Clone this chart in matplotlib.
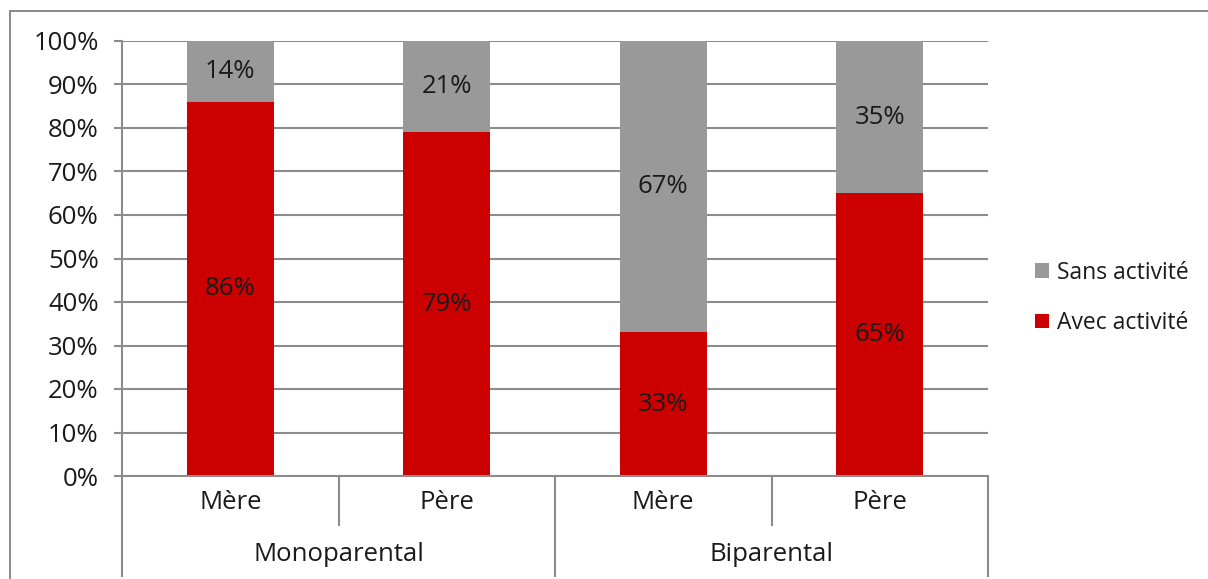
import matplotlib.pyplot as plt
from matplotlib.patches import Rectangle

plt.rcParams['font.family'] = ['Open Sans', 'DejaVu Sans']

groupes = ['Monoparental', 'Biparental']
parents = ['Mère', 'Père', 'Mère', 'Père']
avec_activite = [86, 79, 33, 65]
sans_activite = [14, 21, 67, 35]

rouge = '#cc0000'
gris = '#999999'
ligne = '#8c8c8c'
texte = '#1a1a1a'
fs = 18.5

fig = plt.figure(figsize=(12.08, 5.79), dpi=100)
ax = fig.add_axes([122 / 1208, 1 - 476 / 579, (988 - 122) / 1208, (476 - 41) / 579])

# cadre du graphique
fig.patches.append(Rectangle((10 / 1208, -0.1), 1.1, 1 - 11 / 579 + 0.1, transform=fig.transFigure,
                             fill=False, edgecolor='#767676', linewidth=1.2))

x = list(range(len(parents)))
b1 = ax.bar(x, avec_activite, width=0.4, color=rouge, label='Avec activité', zorder=2)
b2 = ax.bar(x, sans_activite, width=0.4, bottom=avec_activite, color=gris, label='Sans activité', zorder=2)
ax.bar_label(b1, labels=[f'{v}%' for v in avec_activite], label_type='center', fontsize=fs, color=texte)
ax.bar_label(b2, labels=[f'{v}%' for v in sans_activite], label_type='center', fontsize=fs, color=texte)

ax.set_xlim(-0.5, len(parents) - 0.5)
ax.set_ylim(0, 100)
ax.set_yticks(range(0, 101, 10))
ax.set_yticklabels([f'{v}%' for v in range(0, 101, 10)], fontsize=fs, color=texte)
ax.yaxis.grid(True, color=ligne, linewidth=1.5, zorder=0)
ax.tick_params(axis='y', length=5.8, width=1.5, color=ligne, pad=11)
ax.set_xticks([])
for s in ['top', 'right']:
    ax.spines[s].set_visible(False)
for s in ['left', 'bottom']:
    ax.spines[s].set_color(ligne)
    ax.spines[s].set_linewidth(1.5)

# axe des catégories à deux niveaux
tr = ax.get_xaxis_transform()
h1 = 49 / 435
h2 = 100 / 435
for i, p in enumerate(parents):
    ax.text(i, -h1 / 2 - 0.005, p, transform=tr, ha='center', va='center', fontsize=fs, color=texte)
for i in range(len(parents) + 1):
    bord = i % 2 == 0
    ax.plot([i - 0.5, i - 0.5], [0, -(h2 if bord else h1)], transform=tr, color=ligne,
            linewidth=1.5, clip_on=False)
for j, g in enumerate(groupes):
    ax.text(2 * j + 0.5, -(h1 + h2) / 2 - 0.01, g, transform=tr, ha='center', va='center',
            fontsize=fs, color=texte)

leg = fig.legend(handles=[b2, b1], loc='center left', bbox_to_anchor=(1019 / 1208, 1 - 298 / 579),
                 frameon=False, fontsize=16.5, handlelength=0.6, handleheight=0.6, handletextpad=0.35,
                 labelspacing=1.15, borderpad=0.2)
for t in leg.get_texts():
    t.set_color(texte)

fig.savefig('out.png', dpi=100)
